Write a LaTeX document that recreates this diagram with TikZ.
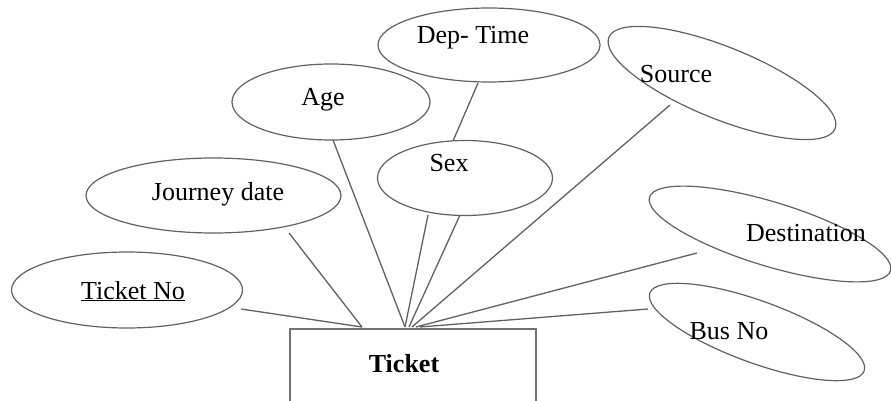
\documentclass[tikz,border=0pt]{standalone}
\usepackage{fontspec}
\setmainfont{Liberation Serif}
\usetikzlibrary{shapes.geometric}
\begin{document}
\begin{tikzpicture}[x=1pt,y=-1pt,
  attr/.style={ellipse, draw=black!62, line width=1.2pt, fill=white, inner sep=0pt, outer sep=0pt},
  conn/.style={draw=black!62, line width=1.3pt},
  lbl/.style={anchor=base, font=\fontsize{26}{30}\selectfont, inner sep=0pt, text=black},
  entbox/.style={draw=black!55, line width=2.2pt, anchor=north west, inner sep=0pt}
]
\useasboundingbox (0,0) rectangle (891,401);
\clip (0,0) rectangle (891,401);
% connector end points
\coordinate (hubL) at (362,327);
\coordinate (hubA) at (405,327);
\coordinate (hubB) at (409,327);
\coordinate (hubC) at (412,327);
\coordinate (hubD) at (416,327);
\coordinate (hubE) at (420,327);
\coordinate (tnoE) at (241,309);
\coordinate (jouE) at (289,233);
\coordinate (ageE) at (333,140);
\coordinate (sexE1) at (428,215);
\coordinate (sexE2) at (460,215);
\coordinate (sexT) at (453,141);
\coordinate (depE) at (478,83);
\coordinate (srcE) at (670,105);
\coordinate (dstE) at (697,253);
\coordinate (busE) at (648,309);
% connectors
\draw[conn] (tnoE) -- (hubL);
\draw[conn] (jouE) -- (hubL);
\draw[conn] (ageE) -- (hubA);
\draw[conn] (sexE1) -- (hubA);
\draw[conn] (sexE2) -- (hubB);
\draw[conn] (depE) -- (sexT);
\draw[conn] (srcE) -- (hubC);
\draw[conn] (dstE) -- (hubD);
\draw[conn] (busE) -- (hubE);
% entity
\node[entbox, minimum width=246pt, minimum height=82pt] (ticket) at (289,328) {};
\node[lbl] (ticketL) at (404,372) {\textbf{Ticket}};
% attributes
\node[attr, minimum width=222pt, minimum height=74pt] (dep) at (489,45) {};
\node[lbl] (depL) at (473,44) {Dep- Time};
\node[attr, minimum width=198pt, minimum height=76pt] (age) at (331,102) {};
\node[lbl] (ageL) at (323,106) {Age};
\node[attr, minimum width=255pt, minimum height=75pt] (jou) at (213.5,195.5) {};
\node[lbl] (jouL) at (218,200) {Journey date};
\node[attr, minimum width=231pt, minimum height=76pt] (tno) at (127,290) {};
\node[lbl] (tnoL) at (133,299) {\underline{Ticket No}};
\node[attr, minimum width=175pt, minimum height=75pt] (sex) at (465,178) {};
\node[lbl] (sexL) at (449,171) {Sex};
\node[attr, minimum width=244pt, minimum height=72pt, rotate=-22] (src) at (722,83) {};
\node[lbl] (srcL) at (676,83) {Source};
\node[attr, minimum width=252pt, minimum height=64pt, rotate=-17] (dst) at (770,234) {};
\node[lbl] (dstL) at (806,241) {Destination};
\node[attr, minimum width=228pt, minimum height=62pt, rotate=-20] (bus) at (757,332) {};
\node[lbl] (busL) at (729,339) {Bus No};
\end{tikzpicture}
\end{document}
